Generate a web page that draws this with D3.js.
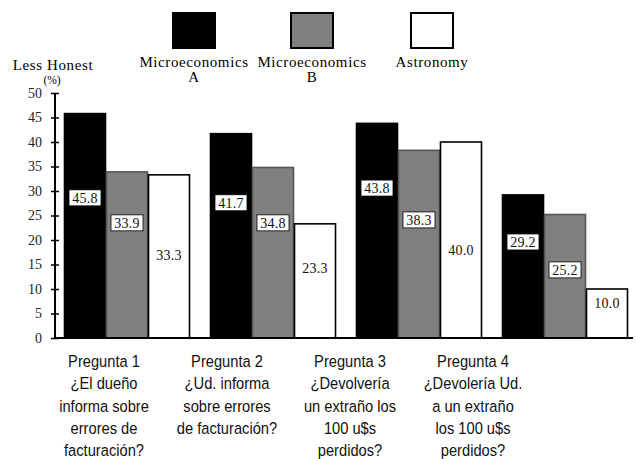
<!DOCTYPE html>
<html><head><meta charset="utf-8">
<script src="https://cdn.jsdelivr.net/npm/d3@7"></script>
<style>body{margin:0;background:#fff}svg{display:block}</style>
</head><body>
<script>
const categories = ["Pregunta 1","Pregunta 2","Pregunta 3","Pregunta 4"];
const seriesNames = ["Microeconomics A","Microeconomics B","Astronomy"];
const legendLines = [["Microeconomics","A"],["Microeconomics","B"],["Astronomy"]];
const microA = [45.8, 41.7, 43.8, 29.2];
const microB = [33.9, 34.8, 38.3, 25.2];
const astronomy = [33.3, 23.3, 40.0, 10.0];
// heights (in % units) where the value labels sit
const labelAtA = [28.6, 27.6, 30.6, 19.6];
const labelAtB = [23.5, 23.5, 24.1, 13.9];
const labelAtC = [16.9, 14.3, 18.0, 7.1];
const yTicks = [0,5,10,15,20,25,30,35,40,45,50];
const categoryLabels = [
  ["Pregunta 1","¿El dueño","informa sobre","errores de","facturación?"],
  ["Pregunta 2","¿Ud. informa","sobre errores","de facturación?"],
  ["Pregunta 3","¿Devolvería","un extraño los","100 u$s","perdidos?"],
  ["Pregunta 4","¿Devolería Ud.","a un extraño","los 100 u$s","perdidos?"]
];

const fills = ["#000000","#808080","#ffffff"];
const strokes = ["#000000","#555555","#000000"];
const values = [microA, microB, astronomy];
const labelAt = [labelAtA, labelAtB, labelAtC];

const W = 636, H = 459;
const svg = d3.select("body").append("svg").attr("width", W).attr("height", H);
const serif = "Liberation Serif, Times New Roman, DejaVu Serif, serif";
const sans = "Liberation Sans, Arial, sans-serif";

const y = d3.scaleLinear().domain([0,50]).range([338,93]);
const x0 = d3.scaleBand().domain(categories).range([64,628]).paddingInner(0.137).paddingOuter(0);
const x1 = d3.scaleBand().domain(seriesNames).range([0, x0.bandwidth()]).padding(0);
const xl = d3.scalePoint().domain(categories).range([104,473]);

// bars
const data = [];
categories.forEach((c,i)=>seriesNames.forEach((s,j)=>data.push({c,s,j,v:values[j][i],la:labelAt[j][i]})));

svg.append("g").selectAll("rect").data(data).join("rect")
  .attr("x", d=>x0(d.c)+x1(d.s)+0.5)
  .attr("y", d=>y(d.v))
  .attr("width", x1.bandwidth()-1)
  .attr("height", d=>y(0)-y(d.v))
  .attr("fill", d=>fills[d.j])
  .attr("stroke", d=>strokes[d.j])
  .attr("stroke-width", 1.6);

// value labels
const lg = svg.append("g");
data.forEach(d=>{
  const cx = x0(d.c)+x1(d.s)+x1.bandwidth()/2;
  const cy = y(d.la);
  if (d.j < 2) {
    lg.append("rect").attr("x", cx-16).attr("y", cy-8).attr("width",32).attr("height",16)
      .attr("fill","#fff").attr("stroke","#000").attr("stroke-width",0.8);
  }
  lg.append("text").attr("x", cx).attr("y", cy+5).attr("text-anchor","middle")
    .attr("font-family", serif).attr("font-size", 14).attr("letter-spacing",0.3).attr("fill","#111")
    .text(d.v.toFixed(1));
});

// y axis
const ya = svg.append("g").attr("transform","translate(55,0)");
ya.call(d3.axisLeft(y).tickValues(yTicks).tickSize(0).tickPadding(13))
  .call(g=>g.select(".domain").remove());
ya.selectAll("text").attr("font-family", serif).attr("font-size", 14).attr("fill","#222");
ya.append("line").attr("x1",0).attr("x2",0).attr("y1",y(50)).attr("y2",y(0)).attr("stroke","#000").attr("stroke-width",2);
ya.selectAll(".tick").append("line").attr("x1",-4).attr("x2",4).attr("stroke","#000").attr("stroke-width",1.5);

// x axis line
svg.append("line").attr("x1",55).attr("x2",633).attr("y1",y(0)).attr("y2",y(0)).attr("stroke","#000").attr("stroke-width",2);

// axis title
svg.append("text").attr("x",53).attr("y",70).attr("text-anchor","middle").attr("font-family",serif).attr("font-size",15).attr("letter-spacing",0.6).text("Less Honest");
svg.append("text").attr("x",52).attr("y",84).attr("text-anchor","middle").attr("font-family",serif).attr("font-size",11.5).text("(%)");

// legend
const legX = d3.scalePoint().domain(seriesNames).range([194,432]);
const leg = svg.append("g");
seriesNames.forEach((s,j)=>{
  const cx = legX(s) + (j===1 ? -1 : 0);
  leg.append("rect").attr("x",cx-21).attr("y",13).attr("width",42).attr("height",35)
    .attr("fill",fills[j]).attr("stroke","#000").attr("stroke-width",2);
  legendLines[j].forEach((t,k)=>{
    leg.append("text").attr("x",cx).attr("y",67+k*15).attr("text-anchor","middle")
      .attr("font-family",serif).attr("font-size",15).attr("letter-spacing",0.6).text(t);
  });
});

// category labels (condensed sans)
const cl = svg.append("g");
categories.forEach((c,i)=>{
  const g = cl.append("g").attr("transform",`translate(${xl(c)},0) scale(0.89,1)`);
  categoryLabels[i].forEach((t,k)=>{
    g.append("text").attr("x",0).attr("y",367+k*22.3).attr("text-anchor","middle")
      .attr("font-family",sans).attr("font-size",16.5).attr("fill","#111").text(t);
  });
});
</script>
</body></html>
